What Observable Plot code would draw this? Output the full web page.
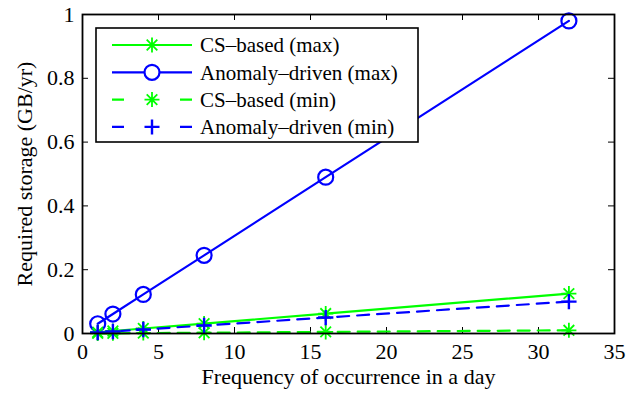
<!DOCTYPE html>
<html><head><meta charset="utf-8">
<script src="https://cdn.jsdelivr.net/npm/d3@7"></script>
<script src="https://cdn.jsdelivr.net/npm/@observablehq/plot@0.6"></script>
<style>body{margin:0;background:#fff}</style>
</head><body><div id="chart"></div>
<script>
const freq = [1, 2, 4, 8, 16, 32];
const csMax = [0.0039, 0.0078, 0.0156, 0.031, 0.0625, 0.125];
const adMax = [0.0306, 0.061, 0.1225, 0.245, 0.49, 0.98];
const csMin = [0.0003, 0.0006, 0.00125, 0.0025, 0.005, 0.01];
const adMin = [0.0031, 0.0063, 0.0125, 0.025, 0.05, 0.1];
const seriesNames = ["CS\u2013based (max)", "Anomaly\u2013driven (max)", "CS\u2013based (min)", "Anomaly\u2013driven (min)"];
const xTicks = [0, 5, 10, 15, 20, 25, 30, 35];
const yTicks = [0, 0.2, 0.4, 0.6, 0.8, 1];
const xTitle = "Frequency of occurrence in a day";
const yTitle = "Required storage (GB/yr)";

const GREEN = "#00ff00", BLUE = "#0000ff";
const series = [
  {name: seriesNames[0], values: csMax, color: GREEN, dash: null, marker: "asterisk"},
  {name: seriesNames[1], values: adMax, color: BLUE, dash: null, marker: "circle"},
  {name: seriesNames[2], values: csMin, color: GREEN, dash: "12,8", marker: "asterisk"},
  {name: seriesNames[3], values: adMin, color: BLUE, dash: "12,8", marker: "plus"}
];

const W = 639, H = 397, mL = 82, mR = 25, mT = 14, mB = 64;
const plotH = H - mT - mB, plotW = W - mL - mR, tick = 6;
const FONT = "'Liberation Serif', 'Times New Roman', 'DejaVu Serif', serif";

const marks = [];
for (const s of series) {
  const rows = freq.map((x, i) => ({x, y: s.values[i]}));
  marks.push(Plot.line(rows, {x: "x", y: "y", stroke: s.color, strokeWidth: 2.2, strokeDasharray: s.dash}));
}
for (const s of series) {
  const rows = freq.map((x, i) => ({x, y: s.values[i]}));
  if (s.marker === "circle") {
    marks.push(Plot.dot(rows, {x: "x", y: "y", r: 7.5, stroke: s.color, strokeWidth: 2.2, fill: "none"}));
  } else if (s.marker === "plus") {
    marks.push(Plot.dot(rows, {x: "x", y: "y", r: 5, symbol: "plus", stroke: s.color, strokeWidth: 2.4, fill: "none"}));
  } else {
    marks.push(Plot.dot(rows, {x: "x", y: "y", r: 4.9, symbol: "plus", stroke: s.color, strokeWidth: 1.8, fill: "none"}));
    marks.push(Plot.dot(rows, {x: "x", y: "y", r: 4.9, symbol: "times", stroke: s.color, strokeWidth: 1.8, fill: "none"}));
  }
}

const svg = Plot.plot({
  width: W, height: H,
  marginLeft: mL, marginRight: mR, marginTop: mT, marginBottom: mB,
  style: {fontFamily: FONT, fontSize: "22px", background: "#fff", color: "#000"},
  x: {domain: [0, 35]},
  y: {domain: [0, 1]},
  marks: [
    Plot.ruleX(xTicks, {x: d => d, insetTop: plotH - tick, stroke: "#000", strokeWidth: 1}),
    Plot.ruleX(xTicks, {x: d => d, insetBottom: plotH - tick, stroke: "#000", strokeWidth: 1}),
    Plot.ruleY(yTicks, {y: d => d, insetRight: plotW - tick, stroke: "#000", strokeWidth: 1}),
    Plot.ruleY(yTicks, {y: d => d, insetLeft: plotW - tick, stroke: "#000", strokeWidth: 1}),
    ...marks,
    Plot.frame({stroke: "#000", strokeWidth: 1.8}),
    Plot.axisX({ticks: xTicks, tickSize: 0, tickPadding: 10, label: null, fontSize: 22, fontFamily: FONT, tickFormat: d => String(d)}),
    Plot.axisY({ticks: yTicks, tickSize: 0, tickPadding: 8, label: null, fontSize: 22, fontFamily: FONT, tickFormat: d => String(d)}),
    Plot.text([xTitle], {text: d => d, frameAnchor: "bottom", dy: 50, fontSize: 22, fontFamily: FONT}),
    Plot.text([yTitle], {text: d => d, frameAnchor: "left", dx: -58, rotate: -90, textAnchor: "middle", fontSize: 22, fontFamily: FONT})
  ]
});

// Legend (MATLAB-style box, upper left inside the axes)
const g = d3.select(svg).append("g")
  .attr("font-family", FONT).attr("font-size", 21).attr("text-anchor", "start");
const lx = 96, ly = 28, lw = 322, lh = 114;
g.append("rect").attr("x", lx).attr("y", ly).attr("width", lw).attr("height", lh)
  .attr("fill", "#fff").attr("stroke", "#000").attr("stroke-width", 1.6);
series.forEach((s, i) => {
  const y = 45 + i * 27.3;
  const x0 = 112, x1 = 192, xm = 152;
  g.append("line").attr("x1", x0).attr("x2", x1).attr("y1", y).attr("y2", y)
    .attr("stroke", s.color).attr("stroke-width", 2.2)
    .attr("stroke-dasharray", s.dash ? "12,56" : null);
  const m = g.append("g").attr("transform", `translate(${xm},${y})`).attr("stroke", s.color).attr("fill", "none");
  if (s.marker === "circle") {
    m.append("circle").attr("r", 7.5).attr("stroke-width", 2.2).attr("fill", "#fff");
  } else if (s.marker === "plus") {
    m.append("path").attr("d", "M-7.5,0H7.5M0,-7.5V7.5").attr("stroke-width", 2.4);
  } else {
    m.append("path").attr("d", "M-7.5,0H7.5M0,-7.5V7.5M-5.3,-5.3L5.3,5.3M-5.3,5.3L5.3,-5.3").attr("stroke-width", 1.8);
  }
  g.append("text").attr("x", 200).attr("y", y).attr("dy", "0.35em")
    .attr("text-anchor", "start").attr("fill", "#000").text(s.name);
});

document.getElementById("chart").appendChild(svg);
</script>
</body></html>
